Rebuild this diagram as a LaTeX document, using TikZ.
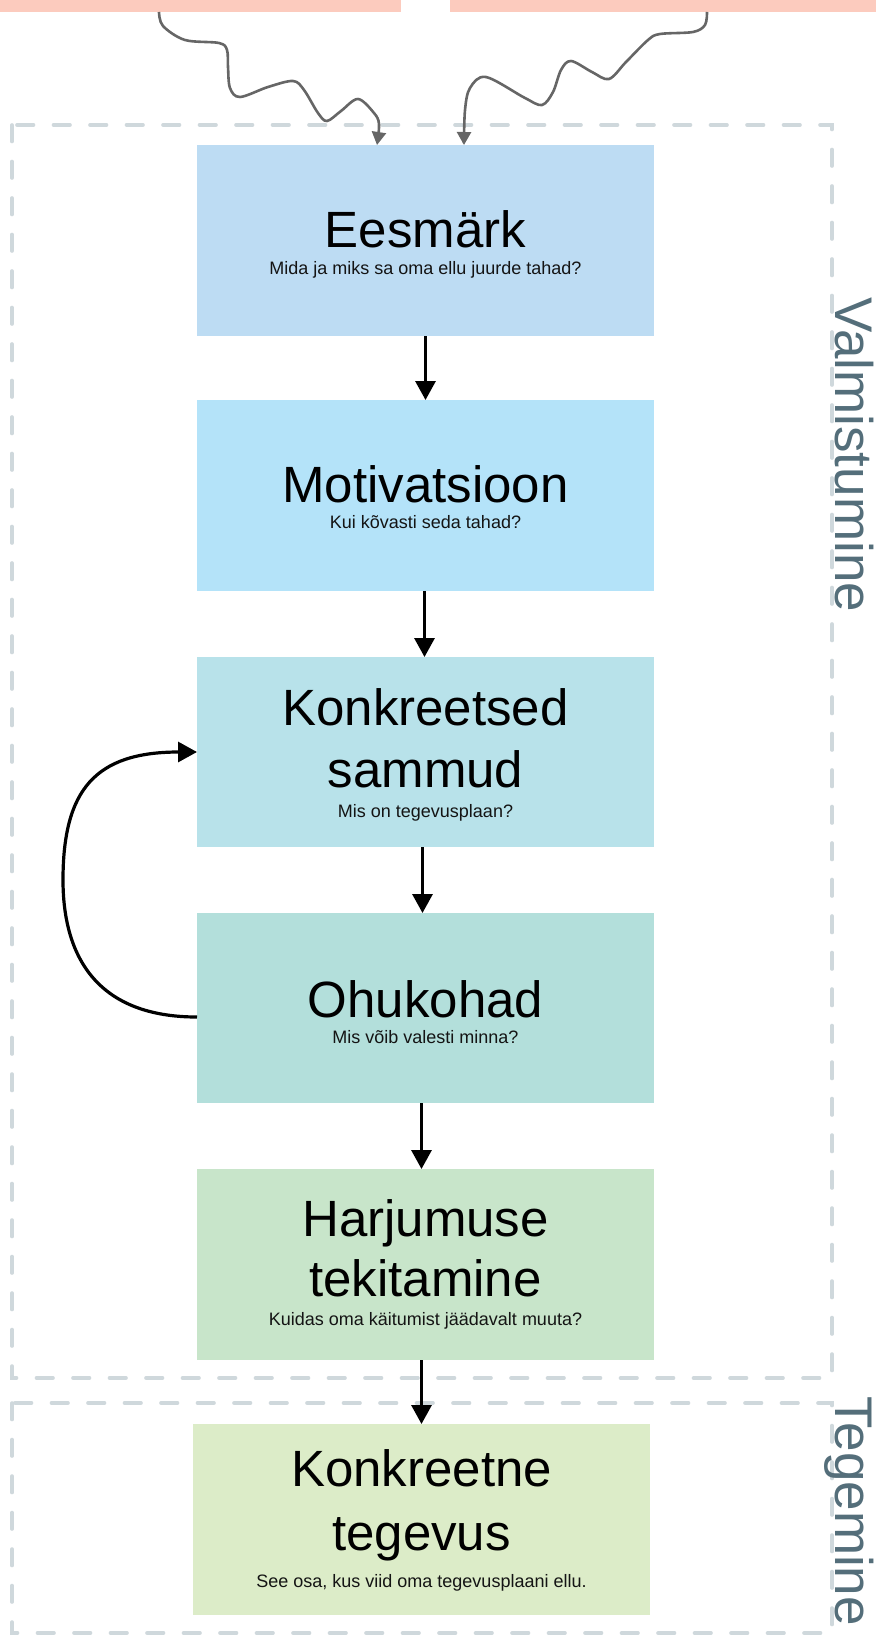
\documentclass[tikz,border=0pt]{standalone}
\usepackage{fontspec}
\setmainfont{Liberation Sans}
\usetikzlibrary{arrows.meta}
\definecolor{pinkc}{HTML}{FCCBBE}
\definecolor{cA}{HTML}{BDDCF3}
\definecolor{cB}{HTML}{B4E3F9}
\definecolor{cC}{HTML}{B8E2EA}
\definecolor{cD}{HTML}{B3DFDB}
\definecolor{cE}{HTML}{C8E5CA}
\definecolor{cF}{HTML}{DCECC8}
\definecolor{dashcol}{HTML}{CFD8DC}
\definecolor{sidecol}{HTML}{546E7A}
\definecolor{subcol}{HTML}{141414}
\definecolor{arrowgray}{HTML}{666666}
\begin{document}
\begin{tikzpicture}[x=1pt,y=-1pt,
  box/.style={rectangle, inner sep=0pt, outer sep=0pt, minimum width=457pt, minimum height=191pt, anchor=north west},
  pinkbox/.style={rectangle, fill=pinkc, inner sep=0pt, outer sep=0pt, minimum height=12pt, anchor=north west},
  ttl/.style={anchor=base, inner sep=0pt, font=\fontsize{51}{61}\selectfont},
  sub/.style={anchor=base, inner sep=0pt, font=\fontsize{18}{22}\selectfont, text=subcol},
  frame/.style={draw=dashcol, line width=3.6pt, line cap=round, dash pattern=on 16.5pt off 20pt},
  side/.style={rotate=-90, anchor=base, inner sep=0pt, font=\fontsize{53}{60}\selectfont, text=sidecol},
  flow/.style={line width=3.2pt, -{Triangle[length=19pt,width=20pt]}},
  wavy/.style={draw=arrowgray, line width=2.6pt, -{Triangle[length=13pt,width=14pt]}}
]
\useasboundingbox (0,0) rectangle (876,1635);

% frames
\draw[frame] (12,125) rectangle (832,1378);
\draw[frame] (12,1403) rectangle (832,1633);

% side labels
\node[side] (lv) at (835,455) {Valmistumine};
\node[side] (lt) at (835,1511) {Tegemine};

% top pink boxes
\node[pinkbox, minimum width=401pt] (pinkL) at (0,0) {};
\node[pinkbox, minimum width=426pt] (pinkR) at (450,0) {};

% boxes
\node[box, fill=cA] (b1) at (197,145) {};
\node[box, fill=cB] (b2) at (197,400) {};
\node[box, fill=cC, minimum height=190pt] (b3) at (197,657) {};
\node[box, fill=cD, minimum height=190pt] (b4) at (197,913) {};
\node[box, fill=cE] (b5) at (197,1169) {};
\node[box, fill=cF] (b6) at (193,1424) {};

% texts
\node[ttl] (t1) at (425.5,247) {Eesmärk};
\node[sub] (s1) at (425.5,274) {Mida ja miks sa oma ellu juurde tahad?};
\node[ttl] (t2) at (425.5,502) {Motivatsioon};
\node[sub] (s2) at (425.5,528) {Kui kõvasti seda tahad?};
\node[ttl] (t3a) at (425.5,725) {Konkreetsed};
\node[ttl] (t3b) at (425.5,787) {sammud};
\node[sub] (s3) at (425.5,817) {Mis on tegevusplaan?};
\node[ttl] (t4) at (425.5,1017) {Ohukohad};
\node[sub] (s4) at (425.5,1043) {Mis võib valesti minna?};
\node[ttl] (t5a) at (425.5,1236) {Harjumuse};
\node[ttl] (t5b) at (425.5,1296) {tekitamine};
\node[sub] (s5) at (425.5,1325) {Kuidas oma käitumist jäädavalt muuta?};
\node[ttl] (t6a) at (421.5,1486) {Konkreetne};
\node[ttl] (t6b) at (421.5,1550) {tegevus};
\node[sub] (s6) at (421.5,1587) {See osa, kus viid oma tegevusplaani ellu.};

% flow arrows
\draw[flow] (b1.south) -- (b2.north);
\draw[flow] ([xshift=-1pt]b2.south) -- ([xshift=-1pt]b3.north);
\draw[flow] ([xshift=-3pt]b3.south) -- ([xshift=-3pt]b4.north);
\draw[flow] ([xshift=-4pt]b4.south) -- ([xshift=-4pt]b5.north);
\draw[flow] ([xshift=-4pt]b5.south) -- (b6.north);

% feedback arrow
\draw[flow] ([yshift=-9pt]b4.west) .. controls (100,1017) and (63,960) .. (63,880)
  .. controls (63,790) and (95,752) .. (b3.west);

% wavy arrows
\coordinate (ls) at ([xshift=159pt]pinkL.south west);
\coordinate (le) at ([xshift=180pt]b1.north west);
\coordinate (rs) at ([xshift=257pt]pinkR.south west);
\coordinate (re) at ([xshift=267pt]b1.north west);
\draw[wavy] plot[smooth, tension=0.55] coordinates {(ls) (163,26) (185,40) (219,43) (227,50) (228,67) (230,88) (240,97) (268,87) (293,81) (304,90) (318,113) (327,121) (341,111) (358,99) (374,113) (379,124) (le)};
\draw[wavy] plot[smooth, tension=0.55] coordinates {(rs) (705,25) (693,32) (660,34) (648,40) (626,62) (609,79) (592,72) (571,61) (561,70) (553,92) (542,105) (525,98) (486,77) (470,88) (465,110) (re)};
\end{tikzpicture}
\end{document}
